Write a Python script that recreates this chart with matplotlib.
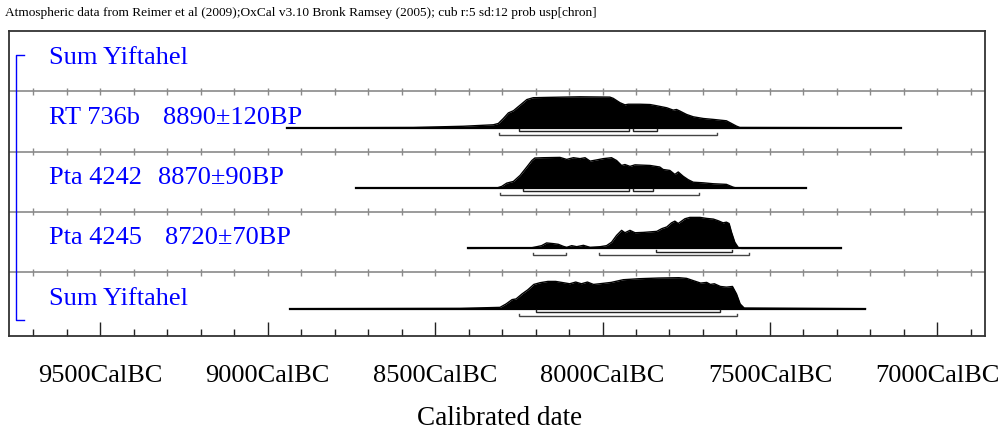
import numpy as np
import matplotlib.pyplot as plt
from matplotlib.ticker import MultipleLocator

plt.rcParams['font.family'] = ['Liberation Serif', 'DejaVu Serif']

# calibrated dates, years BC, relative probability
rt736_years = [8943, 8565, 8415, 8326, 8311, 8296, 8281, 8266, 8246, 8226, 8207, 8167, 8067,
               7978, 7968, 7948, 7933, 7923, 7888, 7858, 7838, 7808, 7789, 7779, 7769, 7749,
               7729, 7699, 7669, 7630, 7615, 7600, 7590, 7109]
rt736_prob = [0, 0.01, 0.05, 0.097, 0.14, 0.30, 0.48, 0.55, 0.73, 0.91, 0.97, 0.98, 1.0,
              0.99, 0.95, 0.81, 0.74, 0.76, 0.76, 0.75, 0.71, 0.645, 0.57, 0.59, 0.54, 0.43,
              0.355, 0.30, 0.27, 0.226, 0.14, 0.054, 0.01, 0]

pta4242_years = [8736, 8316, 8301, 8286, 8266, 8246, 8226, 8211, 8202, 8177, 8127, 8107, 8087,
                 8067, 8052, 8037, 8017, 7998, 7973, 7958, 7943, 7933, 7918, 7903, 7858, 7829,
                 7819, 7799, 7784, 7774, 7759, 7744, 7729, 7699, 7669, 7630, 7610, 7600, 7393]
pta4242_prob = [0, 0, 0.054, 0.16, 0.215, 0.41, 0.68, 0.89, 0.97, 0.98, 0.99, 0.925, 0.98,
                0.95, 0.98, 0.87, 0.91, 0.95, 0.98, 0.89, 0.73, 0.76, 0.70, 0.75, 0.73, 0.68,
                0.60, 0.57, 0.44, 0.52, 0.38, 0.27, 0.19, 0.17, 0.14, 0.12, 0.03, 0, 0]

pta4245_years = [8401, 8216, 8196, 8182, 8167, 8147, 8132, 8117, 8107, 8092, 8077, 8057, 8037,
                 8007, 7988, 7973, 7958, 7943, 7933, 7918, 7903, 7878, 7838, 7823, 7808, 7794,
                 7784, 7774, 7754, 7739, 7709, 7689, 7669, 7654, 7640, 7630, 7622, 7615, 7605,
                 7595, 7585, 7288]
pta4245_prob = [0, 0.01, 0.055, 0.088, 0.176, 0.154, 0.132, 0.066, 0.033, 0.088, 0.055, 0.099,
                0.033, 0.055, 0.088, 0.198, 0.418, 0.582, 0.505, 0.582, 0.505, 0.516, 0.549,
                0.637, 0.692, 0.824, 0.879, 0.802, 0.956, 1.0, 1.0, 0.967, 0.945, 0.89, 0.824,
                0.846, 0.802, 0.527, 0.198, 0.033, 0, 0]

sum_years = [8934, 8424, 8306, 8288, 8270, 8258, 8240, 8223, 8205, 8187, 8163, 8140, 8116,
             8098, 8080, 8063, 8045, 8027, 8009, 7974, 7938, 7891, 7832, 7772, 7749, 7725,
             7707, 7689, 7678, 7666, 7648, 7630, 7612, 7600, 7589, 7577, 7215]
sum_prob = [0, 0.01, 0.043, 0.152, 0.293, 0.315, 0.478, 0.609, 0.783, 0.837, 0.88, 0.88, 0.837,
            0.804, 0.859, 0.804, 0.859, 0.783, 0.804, 0.848, 0.935, 0.967, 0.989, 1.0, 0.978,
            0.891, 0.826, 0.848, 0.783, 0.804, 0.717, 0.696, 0.717, 0.478, 0.152, 0.022, 0]

# 68.2% and 95.4% ranges
rt736_1s = [(8248, 7920), (7910, 7838)]
rt736_2s = [(8308, 7659)]
pta4242_1s = [(8238, 7920), (7910, 7848)]
pta4242_2s = [(8306, 7711)]
pta4245_1s = [(7840, 7612)]
pta4245_2s = [(8209, 8109), (8010, 7562)]
sum_1s = [(8199, 7648)]
sum_2s = [(8249, 7598)]

names = ['RT 736b', 'Pta 4242', 'Pta 4245', 'Sum Yiftahel']
bp_dates = ['8890\u00b1120BP', '8870\u00b190BP', '8720\u00b170BP', '']
date_x = [9312, 9327, 9306, None]
tick_years = [9500, 9000, 8500, 8000, 7500, 7000]
tick_labels = ['9500CalBC', '9000CalBC', '8500CalBC', '8000CalBC', '7500CalBC', '7000CalBC']

series = [(rt736_years, rt736_prob, rt736_1s, rt736_2s),
          (pta4242_years, pta4242_prob, pta4242_1s, pta4242_2s),
          (pta4245_years, pta4245_prob, pta4245_1s, pta4245_2s),
          (sum_years, sum_prob, sum_1s, sum_2s)]

# layout (y in pixels down from the top of the frame)
row_h = 60.3
base_off = 36.5
peak_h = 31
label_off = 26.5
blue = '#0000ff'

fig = plt.figure(figsize=(10, 4.36), dpi=100)
ax = fig.add_axes([0.009, 100 / 436, 0.976, 305 / 436])
ax.set_xlim(9772, 6858)
ax.set_ylim(305, 0)

xt = np.arange(9700, 6850, -100)


def bracket(ax, lo, hi, y, color):
    ax.plot([lo, lo, hi, hi], [y - 2, y, y, y - 2], color=color, lw=1, solid_joinstyle='miter')


for i, (yrs, prob, s1, s2) in enumerate(series):
    sep = row_h * (i + 1)
    ax.axhline(sep, color='#8a8a8a', lw=1.2)
    ax.vlines(xt, sep - 3.5, sep + 3.5, color='#8a8a8a', lw=1)
    base = sep + base_off
    yrs = np.array(yrs)
    ypos = base - np.array(prob) * peak_h
    ax.fill_between(yrs, ypos, base, color='black', lw=0)
    ax.plot(yrs, ypos, color='black', lw=1)
    ax.plot([yrs[0], yrs[-1]], [base, base], color='black', lw=1.6)
    for lo, hi in s1:
        bracket(ax, lo, hi, base + 3.3, '#222222')
    for lo, hi in s2:
        bracket(ax, lo, hi, base + 6.8, '#444444')
    ax.text(9652, sep + label_off, names[i], color=blue, fontsize=19, va='center', ha='left')
    if bp_dates[i]:
        ax.text(date_x[i], sep + label_off, bp_dates[i], color=blue, fontsize=19,
                va='center', ha='left')

ax.text(9652, label_off, 'Sum Yiftahel', color=blue, fontsize=19, va='center', ha='left')

# group bracket on the left
ax.plot([9727, 9751, 9751, 9727], [24, 24, 289, 289], color=blue, lw=1)

for sp in ax.spines.values():
    sp.set_color('#333333')
    sp.set_linewidth(1.3)

ax.set_yticks([])
ax.set_xticks(tick_years)
ax.set_xticklabels(tick_labels)
ax.xaxis.set_minor_locator(MultipleLocator(100))
ax.tick_params(axis='x', which='major', direction='in', length=10, width=1, color='#222222',
               labelsize=19, pad=21)
ax.tick_params(axis='x', which='minor', direction='in', length=5, width=1, color='#222222')

fig.text(0.005, 1 - 13 / 436, 'Atmospheric data from Reimer et al (2009);OxCal v3.10 Bronk Ramsey (2005); '
         'cub r:5 sd:12 prob usp[chron]', fontsize=9.65, va='center', ha='left')
fig.text(0.5, 1 - 418 / 436, 'Calibrated date', fontsize=19.5, va='center', ha='center')

fig.savefig('out.png', dpi=100)
